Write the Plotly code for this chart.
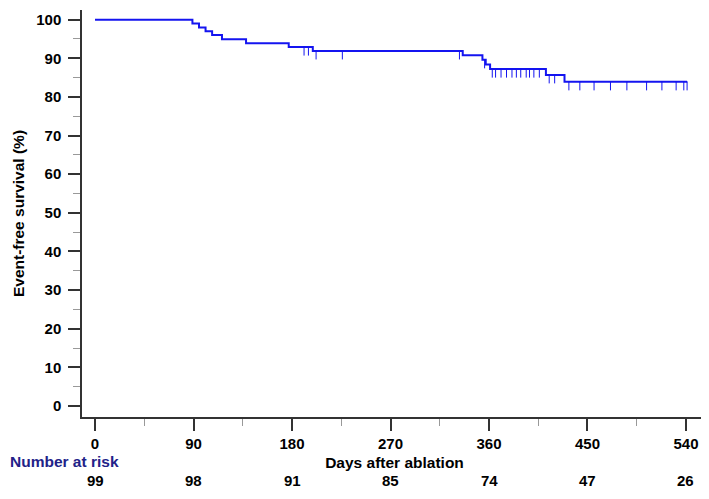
"""Kaplan-Meier event-free survival after ablation."""

import plotly.graph_objects as go

# step function of the survival curve (days, %)
step_days = [0, 89, 95, 101, 107, 116, 138, 177, 199, 336, 354, 357, 361, 412, 429, 541]
step_surv = [100, 99.0, 98.0, 97.0, 96.0, 94.9, 93.9, 92.9, 91.9, 90.8, 89.6, 88.4, 87.2, 85.7, 83.9, 83.9]

# censored observations
censor_days = [191, 195, 202, 226, 333,
               356, 363, 366, 371, 376, 381, 385, 389, 394, 397, 401, 406,
               415, 420,
               433, 443, 456, 471, 486, 504, 518, 531, 538, 541]
censor_surv = [92.9, 92.9, 91.9, 91.9, 91.9,
               89.6, 87.2, 87.2, 87.2, 87.2, 87.2, 87.2, 87.2, 87.2, 87.2, 87.2, 87.2,
               85.7, 85.7,
               83.9, 83.9, 83.9, 83.9, 83.9, 83.9, 83.9, 83.9, 83.9, 83.9]

risk_days = [0, 90, 180, 270, 360, 450, 540]
risk_counts = [99, 98, 91, 85, 74, 47, 26]

BLUE = "#1414f0"
FONT = "Liberation Sans, Arial, sans-serif"

fig = go.Figure()
fig.add_trace(go.Scatter(
    x=step_days, y=step_surv,
    mode="lines", line=dict(color=BLUE, width=2, shape="hv"),
    hoverinfo="skip",
))
fig.add_trace(go.Scatter(
    x=censor_days, y=censor_surv,
    mode="markers", marker=dict(size=1, color=BLUE),
    error_y=dict(type="constant", value=0, valueminus=2.2, symmetric=False,
                 width=0, thickness=1, color=BLUE),
    hoverinfo="skip",
))

for d, n in zip(risk_days, risk_counts):
    fig.add_annotation(
        x=d, y=-0.182, xref="x", yref="paper", text=f"<b>{n}</b>",
        showarrow=False, font=dict(size=15, color="black", family=FONT),
    )

fig.add_annotation(
    x=-0.1184, y=-0.135, xref="paper", yref="paper", xanchor="left",
    text="<b>Number at risk</b>", showarrow=False,
    font=dict(size=15.5, color="#222288", family=FONT),
)

# page body adds an 8px margin, so the figure is 8px smaller than the window
fig.update_layout(
    width=701, height=491,
    margin=dict(l=74, r=2, t=2, b=82),
    plot_bgcolor="white", paper_bgcolor="white",
    showlegend=False,
    font=dict(family=FONT, color="black"),
    xaxis=dict(
        range=[-11.9, 559.2], tickvals=risk_days,
        ticktext=[f"<b>{d}</b>" for d in risk_days],
        tickfont=dict(size=15),
        showline=True, linecolor="#333", linewidth=1.5, mirror=False,
        ticks="outside", ticklen=12, tickwidth=1.5, tickcolor="#333",
        minor=dict(tickvals=[45, 135, 225, 315, 405, 495], ticks="outside",
                   ticklen=7, tickcolor="#999", tickwidth=1),
        showgrid=False, zeroline=False,
        title=dict(text="<b>Days after ablation</b>", font=dict(size=15.5), standoff=6),
    ),
    yaxis=dict(
        range=[-2.85, 102.5], tickvals=list(range(0, 101, 10)),
        ticktext=[f"<b>{v}</b>" for v in range(0, 101, 10)],
        tickfont=dict(size=15),
        showline=True, linecolor="#333", linewidth=1.5, mirror=False,
        ticks="outside", ticklen=12, tickwidth=1.5, tickcolor="#333",
        ticklabelstandoff=4,
        minor=dict(tickvals=list(range(5, 100, 10)), ticks="outside",
                   ticklen=7, tickcolor="#999", tickwidth=1),
        showgrid=False, zeroline=False,
        title=dict(text="<b>Event-free survival (%)</b>", font=dict(size=15.5), standoff=8),
    ),
)

fig.write_html("out.html")
